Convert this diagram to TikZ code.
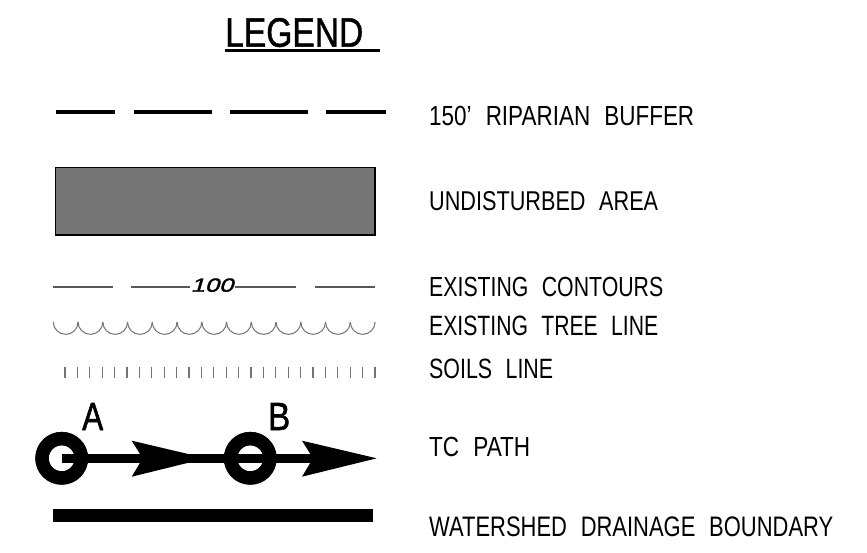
\documentclass[tikz,border=0pt]{standalone}
\usepackage{fontspec}
\setmainfont{Liberation Sans}
\newfontfamily\slantfont[FakeSlant=0.22,FakeBold=1.5]{Liberation Sans}
\newfontfamily\titlefont[FakeBold=1.2]{Liberation Sans}
\newfontfamily\markfont[FakeBold=1.5]{Liberation Sans}
\usepackage{graphicx}
\newcommand{\wg}{\ \hspace{0.35em}}
\begin{document}
\begin{tikzpicture}[x=1pt,y=-1pt,
  lbl/.style={inner sep=0pt, anchor=base west},
  buffer/.style={line width=4pt, black},
  undist/.style={fill=black!54, draw=black, line width=1.5pt},
  contour/.style={line width=1.2pt, black!65},
  treeline/.style={line width=1pt, black!55},
  soil/.style={line width=1.1pt, black!55},
  tcring/.style={draw, circle, line width=13.3pt, minimum size=39.4pt, inner sep=0pt},
  shaft/.style={line width=9pt, black},
  headshape/.style={fill=black},
  boundary/.style={line width=13pt, black}]
\useasboundingbox (0,0) rectangle (867,553);

% title
\node[lbl] (title) at (225,46.7) {\resizebox{138pt}{28.7pt}{\titlefont LEGEND}};
\draw[line width=3pt] (225,50.5) -- (380,50.5);

% riparian buffer
\foreach \a/\b in {55.7/115, 134/211.7, 230/307.7, 326/385.7}
  \draw[buffer] (\a,112) -- (\b,112);

% undisturbed area
\draw[undist] (55.7,167.7) rectangle (375,235);

% contours
\draw[contour] (53,287) -- (112.7,287);
\draw[contour] (131,287) -- (190,287);
\draw[contour] (235,287) -- (296,287);
\draw[contour] (315,287) -- (375,287);
\node[lbl] (c100) at (190.5,291.7) {\resizebox{42.5pt}{13.3pt}{\slantfont 100}};

% tree line
\foreach \i in {0,...,12}
  \draw[treeline] ({53.3+\i*24.75},322) arc[start angle=180, end angle=0, radius=12.375];

% soils line
\foreach \i in {0,...,25}
  \draw[soil] ({65+\i*12.4},366.7) -- ({65+\i*12.4},378.3);

% TC path
\coordinate (shaftend) at (345,458.3);
\node[tcring] (ringA) at (61.7,458.3) {};
\node[tcring] (ringB) at (250.3,458.3) {};
\draw[shaft] (ringA.center) -- (shaftend);
\fill[headshape] (131.7,440.7) -- (206.4,458.3) -- (131.7,476.7) -- (142.7,458.3) -- cycle;
\fill[headshape] (302,440.7) -- (376.7,458.3) -- (302,476.7) -- (313,458.3) -- cycle;
\node[tcring] at (ringA) {};
\node[tcring] at (ringB) {};
\node[lbl] (lblA) at (82,430) {\resizebox{21pt}{27pt}{\markfont A}};
\node[lbl] (lblB) at (268,430) {\resizebox{22pt}{27pt}{\markfont B}};

% watershed boundary
\draw[boundary] (53,515) -- (373,515);

% labels
\node[lbl] (t1) at (429,126) {\resizebox{265pt}{19.3pt}{150’\wg RIPARIAN\wg BUFFER}};
\node[lbl] (t2) at (429,210.7) {\resizebox{229pt}{19pt}{UNDISTURBED\wg AREA}};
\node[lbl] (t3) at (429,296) {\resizebox{234pt}{19.3pt}{EXISTING\wg CONTOURS}};
\node[lbl] (t4) at (429,335) {\resizebox{229pt}{19.5pt}{EXISTING\wg TREE\wg LINE}};
\node[lbl] (t5) at (429,378) {\resizebox{124pt}{19.5pt}{SOILS\wg LINE}};
\node[lbl] (t6) at (429,456) {\resizebox{101pt}{19.3pt}{TC\wg PATH}};
\node[lbl] (t7) at (429,536.7) {\resizebox{404pt}{19.7pt}{WATERSHED\wg DRAINAGE\wg BOUNDARY}};
\end{tikzpicture}
\end{document}
